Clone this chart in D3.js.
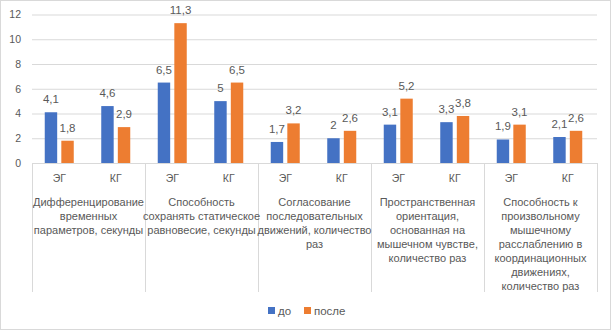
<!DOCTYPE html>
<html>
  <head>
    <meta charset="UTF-8">
    <style>
      body {
        margin: 0;
        font-family: "Liberation Sans", sans-serif;
        background: #fff;
      }

      text {
        fill: #595959;
      }
    </style>
    <script src="https://d3js.org/d3.v7.min.js"></script>
  </head>

  <body>
    <svg id="chart"></svg>

    <script type="text/javascript">
      // group labels, already broken into lines like in the picture
      let groups = [
        ['Дифференцирование', 'временных', 'параметров, секунды'],
        ['Способность', 'сохранять статическое', 'равновесие, секунды'],
        ['Согласование', 'последовательных', 'движений, количество', 'раз'],
        ['Пространственная', 'ориентация,', 'основанная на', 'мышечном чувстве,', 'количество раз'],
        ['Способность к', 'произвольному', 'мышечному', 'расслаблению в', 'координационных', 'движениях,', 'количество раз']
      ]
      let subgroups = ['ЭГ', 'КГ']
      let seriesNames = ['до', 'после']
      let seriesColors = ['#4472c4', '#ed7d31']

      // values per group, [ЭГ, КГ]
      let before = [[4.1, 4.6], [6.5, 5], [1.7, 2], [3.1, 3.3], [1.9, 2.1]]
      let after = [[1.8, 2.9], [11.3, 6.5], [3.2, 2.6], [5.2, 3.8], [3.1, 2.6]]

      let yTicks = [0, 2, 4, 6, 8, 10, 12]

      let width = 612
      let height = 331
      let plot = {left: 32, right: 597, top: 14.5, bottom: 163}

      let svg = d3.select('#chart')
        .attr('width', width)
        .attr('height', height)

      svg.append('rect')
        .attr('x', 0.5)
        .attr('y', 0.5)
        .attr('width', width - 2)
        .attr('height', height - 2)
        .attr('fill', '#fff')
        .attr('stroke', '#d9d9d9')

      let groupIdx = groups.map((g, i) => i)

      let x0 = d3.scaleBand()
        .domain(groupIdx)
        .range([plot.left, plot.right])

      let x1 = d3.scaleBand()
        .domain(subgroups)
        .range([0, x0.bandwidth()])

      let y = d3.scaleLinear()
        .domain([0, 12])
        .range([plot.bottom, plot.top])

      // gridlines + y labels
      let axisY = d3.axisLeft(y)
        .tickValues(yTicks)
        .tickSize(-(plot.right - plot.left))
        .tickPadding(11)
        .tickFormat(d => d)

      let gy = svg.append('g')
        .attr('transform', `translate(${plot.left},0)`)
        .call(axisY)
      gy.select('.domain').remove()
      gy.selectAll('line').attr('stroke', '#d9d9d9')
      gy.selectAll('text')
        .attr('fill', '#595959')
        .style('font-size', '10.5px')
        .style('font-family', '"Liberation Sans", sans-serif')

      // bars
      let rows = []
      groupIdx.forEach(g => {
        subgroups.forEach((s, j) => {
          rows.push({g, s, series: 0, value: before[g][j]})
          rows.push({g, s, series: 1, value: after[g][j]})
        })
      })

      let barX = d => {
        let center = x0(d.g) + x1(d.s) + x1.bandwidth() / 2
        let inner = d3.scaleBand()
          .domain([0, 1])
          .range([center - 15.5, center + 13.5])
          .paddingInner(0.25)
        return {x: inner(d.series), w: inner.bandwidth()}
      }

      let body = svg.append('g')
      body.selectAll('rect.bar')
        .data(rows)
        .enter()
        .append('rect')
        .attr('class', 'bar')
        .attr('x', d => barX(d).x)
        .attr('width', d => barX(d).w)
        .attr('y', d => y(d.value))
        .attr('height', d => y(0) - y(d.value))
        .attr('fill', d => seriesColors[d.series])

      body.selectAll('text.value')
        .data(rows)
        .enter()
        .append('text')
        .attr('class', 'value')
        .attr('x', d => barX(d).x + barX(d).w / 2)
        .attr('y', d => y(d.value) - 9)
        .attr('text-anchor', 'middle')
        .style('font-size', '11.5px')
        .text(d => String(d.value).replace('.', ','))

      // category axis
      svg.append('line')
        .attr('x1', plot.left)
        .attr('x2', plot.right)
        .attr('y1', plot.bottom + 0.5)
        .attr('y2', plot.bottom + 0.5)
        .attr('stroke', '#d9d9d9')

      let dividers = groupIdx.map(g => x0(g)).concat([plot.right])
      svg.selectAll('line.divider')
        .data(dividers)
        .enter()
        .append('line')
        .attr('class', 'divider')
        .attr('x1', d => Math.round(d) + 0.5)
        .attr('x2', d => Math.round(d) + 0.5)
        .attr('y1', plot.bottom)
        .attr('y2', 292)
        .attr('stroke', '#d9d9d9')

      let subLabels = []
      groupIdx.forEach(g => subgroups.forEach(s => subLabels.push({g, s})))
      svg.selectAll('text.sub')
        .data(subLabels)
        .enter()
        .append('text')
        .attr('class', 'sub')
        .attr('x', d => x0(d.g) + x1(d.s) + x1.bandwidth() / 2 - 1)
        .attr('y', 182)
        .attr('text-anchor', 'middle')
        .style('font-size', '10.5px')
        .text(d => d.s)

      let groupText = svg.selectAll('text.group')
        .data(groupIdx)
        .enter()
        .append('text')
        .attr('class', 'group')
        .attr('text-anchor', 'middle')
        .style('font-size', '11px')

      groupText.selectAll('tspan')
        .data(g => groups[g].map(line => ({g, line})))
        .enter()
        .append('tspan')
        .attr('x', d => x0(d.g) + x0.bandwidth() / 2)
        .attr('y', (d, i) => 205.5 + i * 14)
        .text(d => d.line)

      // legend
      let legendX = [268, 304]
      let legend = svg.selectAll('g.legend')
        .data(seriesNames)
        .enter()
        .append('g')
        .attr('class', 'legend')
        .attr('transform', (d, i) => `translate(${legendX[i]}, 307)`)

      legend.append('rect')
        .attr('width', 7)
        .attr('height', 7)
        .attr('fill', (d, i) => seriesColors[i])

      legend.append('text')
        .attr('x', 10)
        .attr('y', 8)
        .style('font-size', '11.5px')
        .text(d => d)
    </script>
  </body>
</html>
